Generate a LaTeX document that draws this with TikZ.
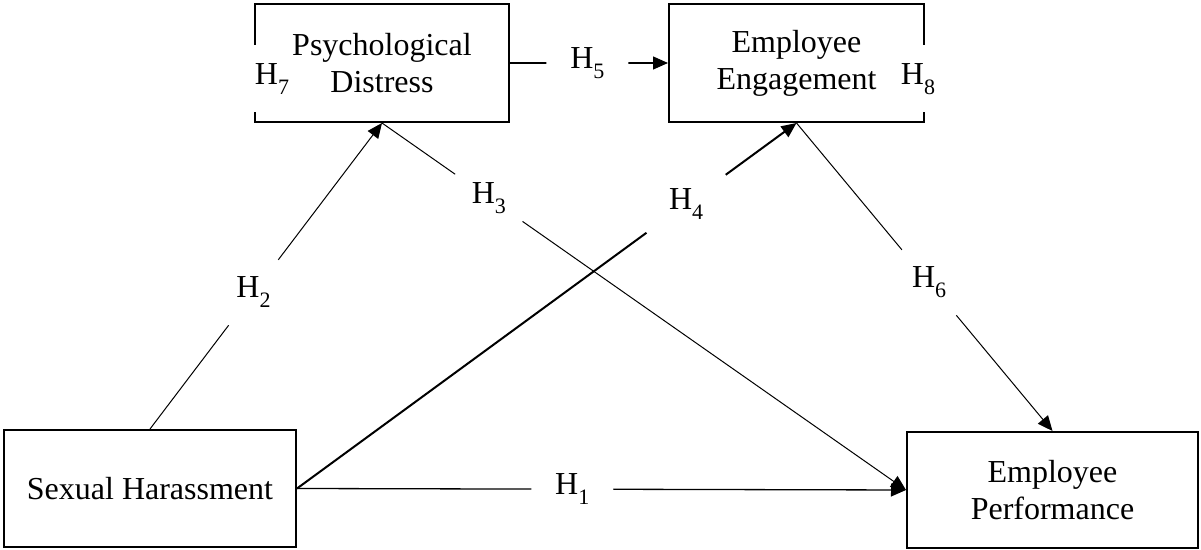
\documentclass[tikz,border=0pt]{standalone}
\usepackage{fontspec}
\setmainfont{Liberation Serif}
\usetikzlibrary{arrows.meta}
\newcommand{\hyp}[1]{H\raisebox{-5pt}{\fontsize{11}{11}\selectfont #1}}
\begin{document}
\begin{tikzpicture}[x=0.5pt,y=-0.5pt,
  txt/.style={font=\fontsize{16}{18.5}\selectfont},
  box/.style={txt, draw, line width=1pt, inner sep=0pt, align=center},
  conn/.style={line width=0.5pt, -{Triangle[length=7.5pt,width=6.5pt]}},
  thickconn/.style={conn, line width=1pt},
  midconn/.style={conn, line width=0.65pt},
  gaplab/.style={txt, circle, fill=white, inner sep=0pt, minimum size=41pt},
  edgelab/.style={txt, fill=white, inner xsep=2pt, inner ysep=0pt, minimum height=33.5pt}]
\useasboundingbox (0,0) rectangle (1201,550);
\node[box, minimum width=127pt, minimum height=59pt] (PD) at (382,63) {Psychological\\Distress};
\node[box, minimum width=127.5pt, minimum height=59pt] (EE) at (796.5,63) {Employee\\Engagement};
\node[box, minimum width=146pt, minimum height=58.5pt] (SH) at (150,488.5) {Sexual Harassment};
\node[box, minimum width=145.5pt, minimum height=58pt] (EP) at (1052.5,490) {Employee\\Performance};
\draw[midconn] (PD.east) -- node[gaplab, pos=0.49] (l5) {\hyp{5}} (EE.west);
\draw[conn] (SH.north) -- node[gaplab, pos=0.446] (l2) {\hyp{2}} (PD.south);
\draw[conn] (PD.south) -- node[gaplab, pos=0.204] (l3) {\hyp{3}} (EP.west);
\draw[thickconn] (SH.east) -- node[gaplab, pos=0.779, minimum size=49pt] (l4) {\hyp{4}} (EE.south);
\draw[conn] (EE.south) -- node[gaplab, pos=0.518, minimum size=42.5pt] (l6) {\hyp{6}} (EP.north);
\draw[midconn] (SH.east) -- node[gaplab, pos=0.452] (l1) {\hyp{1}} (EP.west);
\node[edgelab] (l7) at (272,79) {\hyp{7}};
\node[edgelab] (l8) at (918,79) {\hyp{8}};
\end{tikzpicture}
\end{document}
